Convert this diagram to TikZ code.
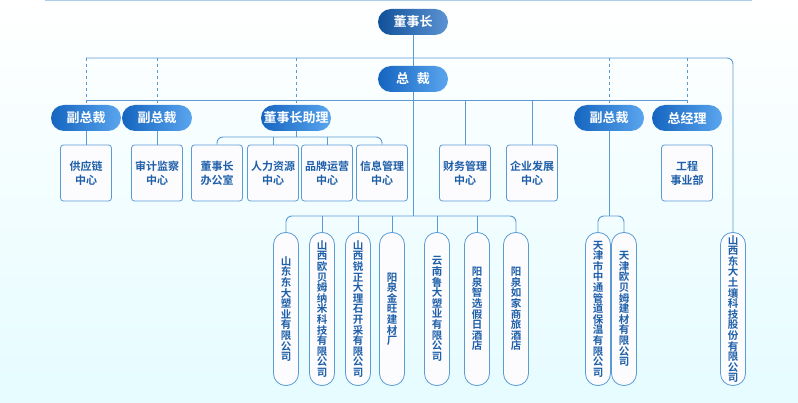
\documentclass[tikz,border=0pt]{standalone}
\usepackage{fontspec}
\setmainfont{Noto Sans CJK SC}[BoldFont={Noto Sans CJK SC Bold}]
\usetikzlibrary{positioning}
\definecolor{lineblue}{HTML}{5B9BD5}
\definecolor{textblue}{HTML}{1F5FA8}
\definecolor{pilldark}{HTML}{1565C0}
\definecolor{pilllight}{HTML}{5AA5EE}
\tikzset{
  pill/.style={rounded corners=13pt, minimum width=70pt, minimum height=26pt, inner sep=0pt,
    left color=pilldark, right color=pilllight, text=white, font=\bfseries\fontsize{13}{13}\selectfont},
  box/.style={draw=lineblue, line width=0.8pt, rounded corners=3pt, fill=white!60!blue!3, minimum width=51pt,
    minimum height=56pt, inner sep=0pt, align=center, text=textblue, font=\bfseries\fontsize{11}{14}\selectfont},
  vpill/.style={draw=lineblue, line width=0.8pt, rounded corners=12pt, fill=white!70!blue!4, minimum width=25pt,
    minimum height=153pt, inner sep=0pt, align=center, text=textblue, font=\bfseries\fontsize{10.5}{10.6}\selectfont},
  line/.style={draw=lineblue, line width=0.9pt, rounded corners=6pt},
  dline/.style={line, dashed}
}
\begin{document}
\begin{tikzpicture}[x=1pt,y=-1pt]
\shade[top color=white, bottom color=blue!12!cyan!10] (0,0) rectangle (798,403);
\useasboundingbox (0,0) rectangle (798,403);
\draw[lineblue!50, line width=1pt] (45,0.5) -- (752,0.5);
% top levels
\node[pill, left color=pilldark!80!black, right color=pilldark!70] (ceo) at (413,22) {董事长};
\node[pill] (pres) at (413,79) {总\hspace{0.6em}裁};
\node[pill] (vpa) at (86,118) {副总裁};
\node[pill] (vpb) at (157,118) {副总裁};
\node[pill] (asst) at (296,118) {董事长助理};
\node[pill] (vpc) at (609,118) {副总裁};
\node[pill] (gm) at (687,118) {总经理};
% departments
\node[box] (supply) at (86,173) {供应链\\中心};
\node[box] (audit) at (157,173) {审计监察\\中心};
\node[box] (office) at (217,173) {董事长\\办公室};
\node[box] (hr) at (273,173) {人力资源\\中心};
\node[box] (brand) at (327,173) {品牌运营\\中心};
\node[box] (info) at (382,173) {信息管理\\中心};
\node[box] (fin) at (465,173) {财务管理\\中心};
\node[box] (dev) at (532,173) {企业发展\\中心};
\node[box] (eng) at (687,173) {工程\\事业部};
% companies
\node[vpill] (sda) at (286,309) {山\\东\\东\\大\\塑\\业\\有\\限\\公\\司};
\node[vpill] (sxo) at (322,309) {山\\西\\欧\\贝\\姆\\纳\\米\\科\\技\\有\\限\\公\\司};
\node[vpill] (sxr) at (358,309) {山\\西\\锐\\正\\大\\理\\石\\开\\采\\有\\限\\公\\司};
\node[vpill] (yqj) at (392,309) {阳\\泉\\金\\旺\\建\\材\\厂};
\node[vpill] (ynl) at (437,309) {云\\南\\鲁\\大\\塑\\业\\有\\限\\公\\司};
\node[vpill] (yqz) at (477,309) {阳\\泉\\智\\选\\假\\日\\酒\\店};
\node[vpill] (yqr) at (516,309) {阳\\泉\\如\\家\\商\\旅\\酒\\店};
\node[vpill] (tjz) at (598,309) {天\\津\\市\\中\\通\\管\\道\\保\\温\\有\\限\\公\\司};
\node[vpill] (tjo) at (624,309) {天\\津\\欧\\贝\\姆\\建\\材\\有\\限\\公\\司};
\node[vpill] (sxt) at (733,309) {山\\西\\东\\大\\土\\壤\\科\\技\\股\\份\\有\\限\\公\\司};
% connectors
\coordinate (top) at (413,58);
\coordinate (mid) at (413,100);
\coordinate (low) at (413,216);
\draw[line] (ceo) -- (pres);
\draw[line] (vpa.north|-top) -- (top) -| (sxt.north);
\foreach \n in {vpa,vpb,asst,vpc,gm} \draw[dline] (\n.north|-top) -- (\n.north);
\draw[line, rounded corners=0pt] (vpa.north|-mid) -- (gm.north|-mid);
\draw[line, rounded corners=0pt] (pres) -- (low);
\foreach \n in {fin,dev} \draw[line] (\n.north|-mid) -- (\n.north);
\foreach \n in {supply,audit} \draw[line] (\n.north|-asst.south) -- (\n.north);
\draw[line] (office.north) |- (296,137) -| (info.north);
\foreach \n in {hr,brand} \draw[line] (\n.north) -- (\n.north|-{(0,137)});
\draw[line] (asst) -- (296,137);
\draw[line] (sda.north) |- (low) -| (yqr.north);
\foreach \n in {sxo,sxr,yqj,ynl,yqz} \draw[line] (\n.north) -- (\n.north|-low);
\draw[line] (vpc) -- (609,216);
\draw[line] (tjz.north) |- (609,216) -| (tjo.north);
\end{tikzpicture}
\end{document}
